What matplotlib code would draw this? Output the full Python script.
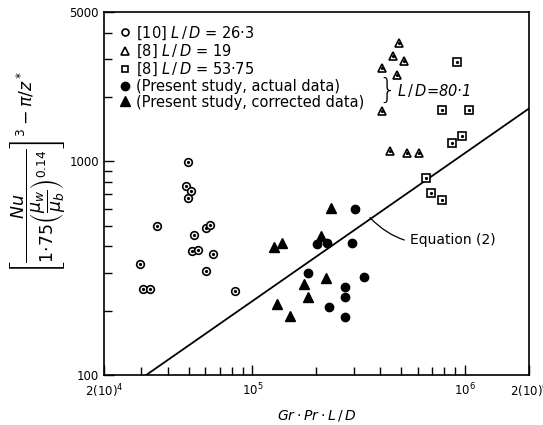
import matplotlib
matplotlib.use("Agg")
import matplotlib.pyplot as plt
from matplotlib.lines import Line2D

# [10] L/D = 26.3 (open circles)
ref10_x = [2.95e4, 3.04e4, 3.28e4, 3.54e4, 4.99e4, 4.89e4, 5.16e4, 4.99e4,
           5.33e4, 5.21e4, 5.56e4, 6.06e4, 6.32e4, 6.53e4, 6.06e4, 8.28e4]
ref10_y = [332, 254, 254, 499, 989, 765, 725, 673,
           453, 381, 385, 488, 504, 369, 308, 246]

# [8] L/D = 19 (open triangles)
ref8a_x = [4.89e5, 4.58e5, 5.15e5, 4.07e5, 4.78e5, 4.07e5, 4.43e5, 5.33e5, 6.06e5]
ref8a_y = [3575, 3112, 2951, 2735, 2539, 1727, 1113, 1089, 1089]

# [8] L/D = 53.75 (open squares)
ref8b_x = [9.22e5, 7.76e5, 1.04e6, 8.73e5, 9.73e5, 6.53e5, 6.89e5, 7.76e5]
ref8b_y = [2918, 1746, 1746, 1213, 1321, 834, 710, 659]

# Present study, actual data (filled circles)
act_x = [3.04e5, 2.02e5, 2.25e5, 2.95e5, 1.82e5, 3.35e5, 2.73e5, 2.73e5, 2.30e5, 2.73e5]
act_y = [598, 411, 415, 415, 301, 289, 259, 231, 209, 186]

# Present study, corrected data (filled triangles)
cor_x = [2.35e5, 1.26e5, 1.37e5, 2.11e5, 2.23e5, 1.74e5, 1.82e5, 1.31e5, 1.50e5]
cor_y = [604, 398, 415, 448, 286, 268, 233, 214, 188]

# Equation (2)
eq_x = [3.16e4, 2.0e6]
eq_y = [100, 1766]

xticks = [2e4, 1e5, 1e6, 2e6]
xticklabels = ["2(10)$^4$", "10$^5$", "10$^6$", "2(10)$^6$"]
yticks = [100, 1000, 5000]
yticklabels = ["100", "1000", "5000"]

fig = plt.figure(figsize=(5.43, 4.25), dpi=100)
ax = fig.add_axes([0.1915, 0.1176, 0.7825, 0.8542])
ax.set_xscale("log")
ax.set_yscale("log")
ax.set_xlim(2e4, 2e6)
ax.set_ylim(100, 5000)

ax.plot(eq_x, eq_y, color="black", lw=1.3)

open_kw = dict(ls="none", mfc="white", mec="black", mew=1.2, color="black")
ax.plot(ref10_x, ref10_y, marker="o", ms=5.5, **open_kw)
ax.plot(ref8a_x, ref8a_y, marker="^", ms=6, **open_kw)
ax.plot(ref8b_x, ref8b_y, marker="s", ms=5.5, **open_kw)
# small dot in the centre of the open symbols
for xs, ys in [(ref10_x, ref10_y), (ref8a_x, ref8a_y), (ref8b_x, ref8b_y)]:
    ax.plot(xs, ys, ls="none", marker="o", ms=1.3, color="black")
ax.plot(act_x, act_y, ls="none", marker="o", ms=6, color="black")
ax.plot(cor_x, cor_y, ls="none", marker="^", ms=6.5, color="black")

handles = [
    Line2D([], [], marker="o", ms=5, **open_kw),
    Line2D([], [], marker="^", ms=5.5, **open_kw),
    Line2D([], [], marker="s", ms=5, **open_kw),
    Line2D([], [], ls="none", marker="o", ms=6, color="black"),
    Line2D([], [], ls="none", marker="^", ms=6.5, color="black"),
]
labels = ["[10] $L\\,/\\,D$ = 26·3", "[8] $L\\,/\\,D$ = 19", "[8] $L\\,/\\,D$ = 53·75",
          "(Present study, actual data)", "(Present study, corrected data)"]
ax.legend(handles, labels, loc="upper left", frameon=False, fontsize=10.5,
          handlelength=0.8, handletextpad=0.35, labelspacing=0.05,
          borderaxespad=0.2, bbox_to_anchor=(0.015, 0.99))

ax.text(0.645, 0.783, "}", transform=ax.transAxes, fontsize=20,
        va="center", ha="left", fontweight="light")
ax.text(0.69, 0.785, "$L\\,/\\,D$=80·1", transform=ax.transAxes,
        fontsize=10.5, va="center", ha="left", style="italic")

ax.annotate("Equation (2)", xy=(3.57e5, 545), xytext=(5.5e5, 430),
            fontsize=10, va="center", ha="left",
            arrowprops=dict(arrowstyle="-", color="black", lw=0.9,
                            connectionstyle="arc3,rad=-0.3",
                            shrinkA=2, shrinkB=0))

ax.set_xticks(xticks)
ax.set_xticklabels(xticklabels, fontsize=8.5)
ax.set_yticks(yticks)
ax.set_yticklabels(yticklabels, fontsize=8.5)
ax.tick_params(which="both", direction="in", top=False, right=False)
ax.tick_params(which="major", length=7, width=1)
ax.tick_params(which="minor", length=6, width=1)
ax.tick_params(axis="x", which="both", pad=5)
ax.tick_params(axis="x", which="minor", labelbottom=False)
ax.tick_params(axis="y", which="minor", labelleft=False)
for s in ax.spines.values():
    s.set_linewidth(1.2)

ax.set_xlabel("$Gr\\cdot Pr\\cdot L\\,/\\,D$", fontsize=10, labelpad=6)
fig.text(0.07, 0.595,
         r"$\left[\dfrac{Nu}{1{\cdot}75\left(\dfrac{\mu_w}{\mu_b}\right)^{0.14}}\right]^3 - \pi/z^*$",
         rotation=90, fontsize=12.5, ha="center", va="center")

fig.savefig("out.png", dpi=100)
